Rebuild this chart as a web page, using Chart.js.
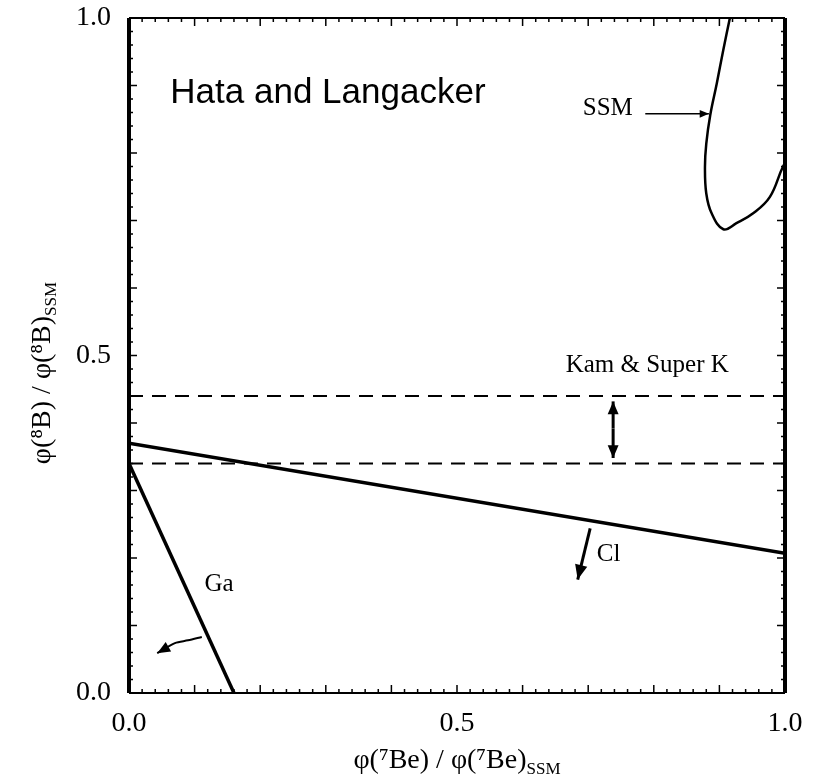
<!DOCTYPE html>
<html lang="en">
<head>
    <meta charset="UTF-8">
    <title>Hata and Langacker</title>
    <script src="https://cdn.jsdelivr.net/npm/chart.js"></script>
    <style>
        body { margin: 0; background: #fff; }
        canvas { display: block; }
    </style>
</head>
<body>
<canvas id="fluxChart" width="814" height="781"></canvas>
<script>
    // axis ticks (labelled ones)
    var tickValues = [0.0, 0.5, 1.0];

    // Kamiokande & Super-K band (phi(8B)/phi(8B)SSM)
    var kamUpper = [0.44, 0.44];
    var kamLower = [0.34, 0.34];
    var bandX = [0.0, 1.0];

    // Cl constraint line
    var clX = [0.0, 1.0];
    var clY = [0.37, 0.207];

    // Ga constraint line
    var gaX = [0.0, 0.16];
    var gaY = [0.34, 0.0];

    // SSM contour
    var ssmX = [0.916, 0.906, 0.896, 0.886, 0.880, 0.878, 0.880, 0.888, 0.906, 0.926, 0.952, 0.977, 0.997, 1.01];
    var ssmY = [1.0, 0.953, 0.903, 0.856, 0.814, 0.780, 0.740, 0.711, 0.687, 0.696, 0.711, 0.735, 0.780, 0.80];

    // annotation arrows
    var ssmArrowX = [0.787, 0.884];
    var ssmArrowY = [0.858, 0.858];
    var kamArrowX = [0.738, 0.738];
    var kamArrowY = [0.392, 0.432];
    var kamArrowY2 = [0.392, 0.348];
    var clArrowX = [0.703, 0.684];
    var clArrowY = [0.244, 0.168];
    var gaArrowX = [0.111, 0.090, 0.070, 0.043];
    var gaArrowY = [0.083, 0.078, 0.074, 0.059];

    function pts(xs, ys) {
        return xs.map(function (x, i) { return { x: x, y: ys[i] }; });
    }

    var serif = '"Liberation Serif", "DejaVu Serif", serif';

    function lineSet(data, opts) {
        return Object.assign({
            data: data,
            showLine: true,
            borderColor: '#000',
            borderWidth: 3,
            pointRadius: 0,
            fill: false,
            tension: 0
        }, opts || {});
    }

    // frame with inward ticks on all four sides
    var framePlugin = {
        id: 'frame',
        afterDatasetsDraw: function (chart) {
            var ctx = chart.ctx, a = chart.chartArea;
            var xs = chart.scales.x, ys = chart.scales.y;
            ctx.save();
            ctx.strokeStyle = '#000';
            ctx.lineWidth = 4;
            ctx.beginPath();
            ctx.moveTo(a.left, a.top); ctx.lineTo(a.left, a.bottom);
            ctx.moveTo(a.right, a.top); ctx.lineTo(a.right, a.bottom);
            ctx.stroke();
            ctx.lineWidth = 2;
            ctx.beginPath();
            ctx.moveTo(a.left, a.top); ctx.lineTo(a.right, a.top);
            ctx.moveTo(a.left, a.bottom); ctx.lineTo(a.right, a.bottom);
            ctx.stroke();
            ctx.lineWidth = 1.5;
            ctx.beginPath();
            for (var i = 1; i < 50; i++) {
                var v = i / 50;
                var len = (i % 5 === 0) ? 8 : 4;
                var px = xs.getPixelForValue(v);
                var py = ys.getPixelForValue(v);
                ctx.moveTo(px, a.bottom); ctx.lineTo(px, a.bottom - len);
                ctx.moveTo(px, a.top); ctx.lineTo(px, a.top + len);
                ctx.moveTo(a.left, py); ctx.lineTo(a.left + len, py);
                ctx.moveTo(a.right, py); ctx.lineTo(a.right - len, py);
            }
            ctx.stroke();
            ctx.restore();
        }
    };

    // arrowheads at ends of datasets flagged with arrow option
    var arrowPlugin = {
        id: 'arrows',
        afterDatasetsDraw: function (chart) {
            var ctx = chart.ctx;
            chart.data.datasets.forEach(function (ds, di) {
                if (!ds.arrow) return;
                var el = chart.getDatasetMeta(di).data;
                var n = el.length;
                var p1 = el[n - 2], p2 = el[n - 1];
                var ang = Math.atan2(p2.y - p1.y, p2.x - p1.x);
                var L = ds.arrowSize || 14;
                ctx.save();
                ctx.fillStyle = '#000';
                ctx.beginPath();
                ctx.moveTo(p2.x, p2.y);
                ctx.lineTo(p2.x - L * Math.cos(ang - 0.4), p2.y - L * Math.sin(ang - 0.4));
                ctx.lineTo(p2.x - L * Math.cos(ang + 0.4), p2.y - L * Math.sin(ang + 0.4));
                ctx.closePath();
                ctx.fill();
                ctx.restore();
            });
        }
    };

    // text labels and axis titles (with SSM subscript)
    var textPlugin = {
        id: 'texts',
        afterDraw: function (chart) {
            var ctx = chart.ctx, a = chart.chartArea;
            var xs = chart.scales.x, ys = chart.scales.y;
            ctx.save();
            ctx.fillStyle = '#000';

            ctx.font = '35px "Liberation Sans", Arial, sans-serif';
            ctx.textBaseline = 'alphabetic';
            ctx.textAlign = 'left';
            ctx.fillText('Hata and Langacker', xs.getPixelForValue(0.063), ys.getPixelForValue(0.874));

            ctx.font = '25px ' + serif;
            ctx.textBaseline = 'middle';
            ctx.textAlign = 'right';
            ctx.fillText('SSM', xs.getPixelForValue(0.768), ys.getPixelForValue(0.866));
            ctx.textAlign = 'center';
            ctx.fillText('Kam & Super K', xs.getPixelForValue(0.79), ys.getPixelForValue(0.485));
            ctx.textAlign = 'left';
            ctx.fillText('Cl', xs.getPixelForValue(0.713), ys.getPixelForValue(0.205));
            ctx.fillText('Ga', xs.getPixelForValue(0.115), ys.getPixelForValue(0.161));

            function measure(main, sub, size) {
                ctx.font = size + 'px ' + serif;
                var w1 = ctx.measureText(main).width;
                ctx.font = Math.round(size * 0.6) + 'px ' + serif;
                var w2 = ctx.measureText(sub).width;
                return { w1: w1, w2: w2, w: w1 + w2 };
            }
            // x title
            var xm = 'φ(⁷Be) / φ(⁷Be)', sub = 'SSM';
            var m = measure(xm, sub, 28);
            var cx = (a.left + a.right) / 2 - m.w / 2, cy = 768;
            ctx.textAlign = 'left';
            ctx.textBaseline = 'alphabetic';
            ctx.font = '28px ' + serif;
            ctx.fillText(xm, cx, cy);
            ctx.font = '17px ' + serif;
            ctx.fillText(sub, cx + m.w1, cy + 6);

            // y title
            var ym = 'φ(⁸B) / φ(⁸B)';
            var m2 = measure(ym, sub, 28);
            ctx.translate(50, 373);
            ctx.rotate(-Math.PI / 2);
            ctx.font = '28px ' + serif;
            ctx.fillText(ym, -m2.w / 2, 0);
            ctx.font = '17px ' + serif;
            ctx.fillText(sub, -m2.w / 2 + m2.w1, 6);
            ctx.restore();
        }
    };

    var ctx = document.getElementById('fluxChart').getContext('2d');
    var fluxChart = new Chart(ctx, {
        type: 'scatter',
        data: {
            datasets: [
                lineSet(pts(bandX, kamUpper), { borderWidth: 2, borderDash: [14, 9] }),
                lineSet(pts(bandX, kamLower), { borderWidth: 2, borderDash: [14, 9] }),
                lineSet(pts(clX, clY), { borderWidth: 3.5 }),
                lineSet(pts(gaX, gaY), { borderWidth: 3.5 }),
                lineSet(pts(ssmX, ssmY), { borderWidth: 2.5, tension: 0.4 }),
                lineSet(pts(ssmArrowX, ssmArrowY), { borderWidth: 1.5, arrow: true, arrowSize: 10 }),
                lineSet(pts(kamArrowX, kamArrowY), { borderWidth: 3, arrow: true, arrowSize: 14 }),
                lineSet(pts(kamArrowX, kamArrowY2), { borderWidth: 3, arrow: true, arrowSize: 14 }),
                lineSet(pts(clArrowX, clArrowY), { borderWidth: 3, arrow: true, arrowSize: 16 }),
                lineSet(pts(gaArrowX, gaArrowY), { borderWidth: 2, arrow: true, arrowSize: 14, tension: 0.3 })
            ]
        },
        options: {
            responsive: false,
            animation: false,
            layout: { padding: { top: 18, right: 29, left: 0, bottom: 0 } },
            plugins: {
                legend: { display: false },
                tooltip: { enabled: false }
            },
            scales: {
                x: {
                    type: 'linear',
                    min: 0, max: 1,
                    grid: { display: false, drawTicks: false },
                    border: { display: false },
                    afterFit: function (s) { s.height = 88; s.paddingLeft = 0; s.paddingRight = 0; },
                    afterBuildTicks: function (s) { s.ticks = tickValues.map(function (v) { return { value: v }; }); },
                    ticks: {
                        padding: 14,
                        color: '#000',
                        font: { family: serif, size: 28 },
                        callback: function (v) { return Number(v).toFixed(1); }
                    }
                },
                y: {
                    type: 'linear',
                    min: 0, max: 1,
                    grid: { display: false, drawTicks: false },
                    border: { display: false },
                    afterFit: function (s) { s.width = 129; s.paddingTop = 0; s.paddingBottom = 0; },
                    afterBuildTicks: function (s) { s.ticks = tickValues.map(function (v) { return { value: v }; }); },
                    ticks: {
                        padding: 18,
                        color: '#000',
                        font: { family: serif, size: 28 },
                        callback: function (v) { return Number(v).toFixed(1); }
                    }
                }
            }
        },
        plugins: [framePlugin, arrowPlugin, textPlugin]
    });
</script>
</body>
</html>
